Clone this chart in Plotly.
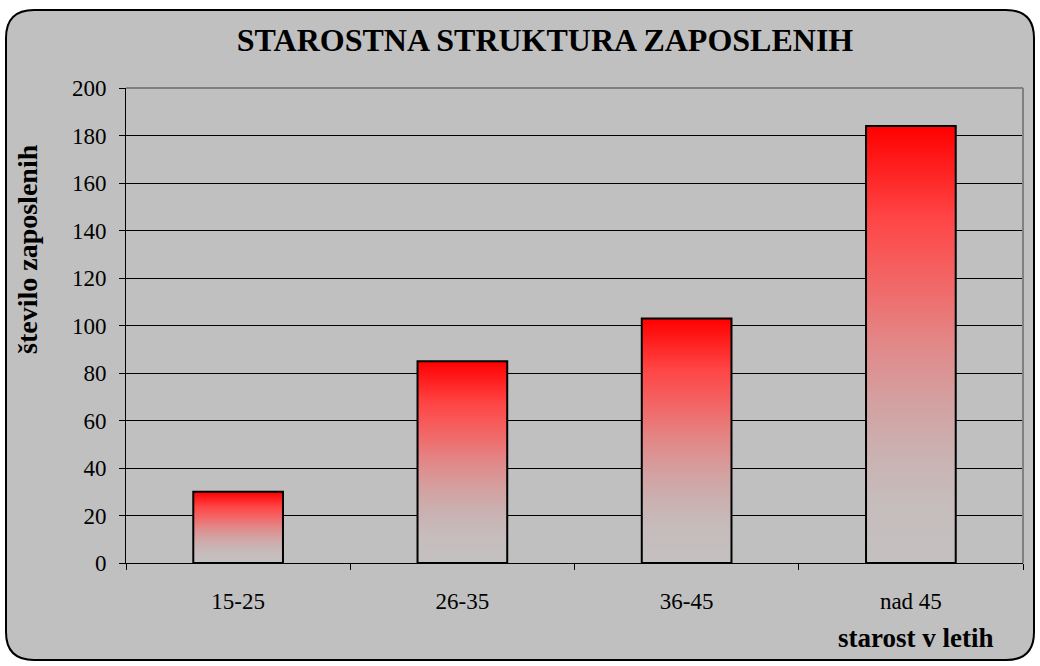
import plotly.graph_objects as go

categories = ["15-25", "26-35", "36-45", "nad 45"]
values = [30, 85, 103, 184]
y_ticks = list(range(0, 201, 20))

W, H = 1040, 666
ML, MR, MT, MB = 126, 17, 88, 103
PW, PH = W - ML - MR, H - MT - MB

def px_x(p):
    return (p - ML) / PW

def px_y(p):
    return (H - MB - p) / PH

grad = [[0, '#C4C0C0'], [0.14, '#C6BCBC'], [0.26, '#CBB0B0'], [0.37, '#D4A0A0'],
        [0.51, '#E38686'], [0.6, '#EE7070'], [0.79, '#FF4545'], [1, '#FF0000']]

bar_w = 0.4
fig = go.Figure()
for i, (c, v) in enumerate(zip(categories, values)):
    x0, x1 = i - bar_w / 2, i + bar_w / 2
    fig.add_trace(go.Scatter(
        x=[x0, x1, x1, x0, x0], y=[0, 0, v, v, 0],
        mode='lines', fill='toself',
        fillgradient=dict(type='vertical', colorscale=grad),
        line=dict(color='black', width=2),
        name=c, hoverinfo='skip', showlegend=False))

# rounded frame
L, R, T, B, r = 6, 1034, 10, 660, 28
def P(x, y):
    return f"{px_x(x):.5f},{px_y(y):.5f}"
path = (f"M {P(L + r, T)} L {P(R - r, T)} Q {P(R, T)} {P(R, T + r)} "
        f"L {P(R, B - r)} Q {P(R, B)} {P(R - r, B)} L {P(L + r, B)} "
        f"Q {P(L, B)} {P(L, B - r)} L {P(L, T + r)} Q {P(L, T)} {P(L + r, T)} Z")

font = "Liberation Serif, Times New Roman, serif"
n = len(categories)
fig.update_layout(
    width=W, height=H,
    margin=dict(l=ML, r=MR, t=MT, b=MB),
    paper_bgcolor='white', plot_bgcolor='rgba(0,0,0,0)',
    font=dict(family=font, color='black', size=23),
    shapes=[
        dict(type='path', xref='paper', yref='paper', path=path,
             fillcolor='#C0C0C0', line=dict(color='black', width=2), layer='below'),
        dict(type='line', xref='paper', yref='paper', x0=0, x1=1, y0=1, y1=1,
             line=dict(color='#808080', width=2)),
        dict(type='line', xref='paper', yref='paper', x0=1, x1=1, y0=0, y1=1,
             line=dict(color='#808080', width=2)),
    ],
    title=dict(text="<b>STAROSTNA STRUKTURA ZAPOSLENIH</b>", xref='container', yref='container',
               x=545 / W, y=1 - 40 / H, xanchor='center', yanchor='middle',
               font=dict(family=font, size=32, color='black')),
    annotations=[
        dict(text="<b>število zaposlenih</b>", xref='paper', yref='paper',
             x=px_x(27), y=px_y(249), textangle=-90, showarrow=False,
             xanchor='center', yanchor='middle', font=dict(family=font, size=28)),
        dict(text="<b>starost v letih</b>", xref='paper', yref='paper',
             x=px_x(916), y=px_y(638), showarrow=False,
             xanchor='center', yanchor='middle', font=dict(family=font, size=27)),
    ],
    xaxis=dict(range=[-0.5, n - 0.5], tickmode='array', tickvals=list(range(n)),
               ticktext=categories, ticks='', showgrid=False, zeroline=False,
               showline=True, linecolor='black', linewidth=1,
               ticklabelstandoff=17,
               minor=dict(tickmode='array', tickvals=[i - 0.5 for i in range(n + 1)],
                          ticks='outside', ticklen=6, tickcolor='black', tickwidth=1,
                          showgrid=False)),
    yaxis=dict(range=[0, 200], tickmode='array', tickvals=y_ticks,
               ticks='outside', ticklen=6, tickcolor='black', tickwidth=1,
               showline=True, linecolor='black', linewidth=1,
               showgrid=True, gridcolor='black', gridwidth=1, zeroline=False,
               ticklabelstandoff=8),
)

fig.write_html("out.html", config={'displayModeBar': False},
               post_script="document.body.style.margin='0';")
